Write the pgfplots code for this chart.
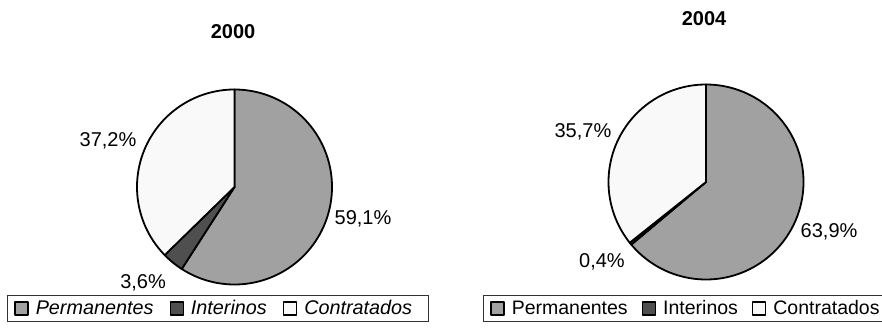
\documentclass[border=0pt]{standalone}
\usepackage{pgfplots}
\usepackage{pgfplotstable}
\pgfplotsset{compat=1.18}
\usepackage{fontspec}
\setmainfont{Liberation Sans}
\definecolor{cPerm}{gray}{0.63}
\definecolor{cInt}{gray}{0.31}
\definecolor{cCon}{gray}{0.975}

\pgfplotstableread{
cat y2000 y2004
Permanentes 59.1 63.9
Interinos 3.6 0.4
Contratados 37.2 35.7
}\piedata

\pgfplotstablegetelem{0}{y2000}\of\piedata \let\pA\pgfplotsretval
\pgfplotstablegetelem{1}{y2000}\of\piedata \let\iA\pgfplotsretval
\pgfplotstablegetelem{0}{y2004}\of\piedata \let\pB\pgfplotsretval
\pgfplotstablegetelem{1}{y2004}\of\piedata \let\iB\pgfplotsretval
\pgfmathsetmacro\aA{90-3.6*\pA}
\pgfmathsetmacro\bA{\aA-3.6*\iA}
\pgfmathsetmacro\aB{90-3.6*\pB}
\pgfmathsetmacro\bB{\aB-3.6*\iB}

\pgfplotsset{
  pie/.style={hide axis, clip=false, overlay, x=97.5pt, y=97.5pt,
    xmin=-1, xmax=1, ymin=-1, ymax=1, anchor=south west,
    legend columns=3, legend cell align=left},
  wedge/.style={draw=black, line width=1.8pt, line join=round, samples=120},
}
\newcommand\lbl{\fontsize{20}{24}\selectfont}

\begin{document}
\begin{tikzpicture}[x=1pt,y=1pt]
\useasboundingbox (0pt,0pt) rectangle (882pt,327pt);

% ---- 2000 ----
\begin{axis}[pie, at={(137pt,42.5pt)},
  legend image code/.code={\draw[#1, draw=black, line width=1.4pt] (0pt,-6.5pt) rectangle (13pt,6.5pt);},
  legend style={overlay, at={(-0.667,-0.054)}, anchor=north west, draw=black!80, line width=0.9pt,
    font=\fontsize{19.8}{24}\selectfont\itshape, inner xsep=7pt, inner ysep=3pt,
    /tikz/every odd column/.append style={column sep=5pt},
    /tikz/every even column/.append style={column sep=14pt}},
]
\addplot[wedge, fill=cPerm, domain=\aA:90] ({cos(x)},{sin(x)}) -- (axis cs:0,0) -- cycle;
\addplot[wedge, fill=cInt, domain=\bA:\aA] ({cos(x)},{sin(x)}) -- (axis cs:0,0) -- cycle;
\addplot[wedge, fill=cCon, domain=-270:\bA] ({cos(x)},{sin(x)}) -- (axis cs:0,0) -- cycle;
\legend{Permanentes, Interinos, Contratados\hspace*{7pt}}
\node[font=\fontsize{20}{24}\selectfont\bfseries] at (axis cs:-0.015,1.59) {2000};
\node[font=\lbl] at (axis cs:-1.297,0.472) {37,2\%};
\node[font=\lbl] at (axis cs:1.318,-0.328) {59,1\%};
\node[font=\lbl] at (axis cs:-0.938,-0.985) {3,6\%};
\end{axis}

% ---- 2004 ----
\begin{axis}[pie, at={(608.5pt,47.5pt)},
  legend image code/.code={\draw[#1, draw=black, line width=1.4pt] (0pt,-6.5pt) rectangle (13pt,6.5pt);},
  legend style={overlay, at={(-0.644,-0.080)}, anchor=north west, draw=black!80, line width=0.9pt,
    font=\fontsize{19.5}{24}\selectfont, inner xsep=7pt, inner ysep=3pt,
    /tikz/every odd column/.append style={column sep=5pt},
    /tikz/every even column/.append style={column sep=12pt}},
]
\addplot[wedge, fill=cPerm, domain=\aB:90] ({cos(x)},{sin(x)}) -- (axis cs:0,0) -- cycle;
\addplot[wedge, fill=cInt, domain=\bB:\aB] ({cos(x)},{sin(x)}) -- (axis cs:0,0) -- cycle;
\addplot[wedge, fill=cCon, domain=-270:\bB] ({cos(x)},{sin(x)}) -- (axis cs:0,0) -- cycle;
\legend{Permanentes, Interinos, Contratados}
\node[font=\fontsize{20}{24}\selectfont\bfseries] at (axis cs:-0.02,1.68) {2004};
\node[font=\lbl] at (axis cs:-1.262,0.513) {35,7\%};
\node[font=\lbl] at (axis cs:1.262,-0.513) {63,9\%};
\node[font=\lbl] at (axis cs:-1.067,-0.82) {0,4\%};
\end{axis}
\end{tikzpicture}
\end{document}
